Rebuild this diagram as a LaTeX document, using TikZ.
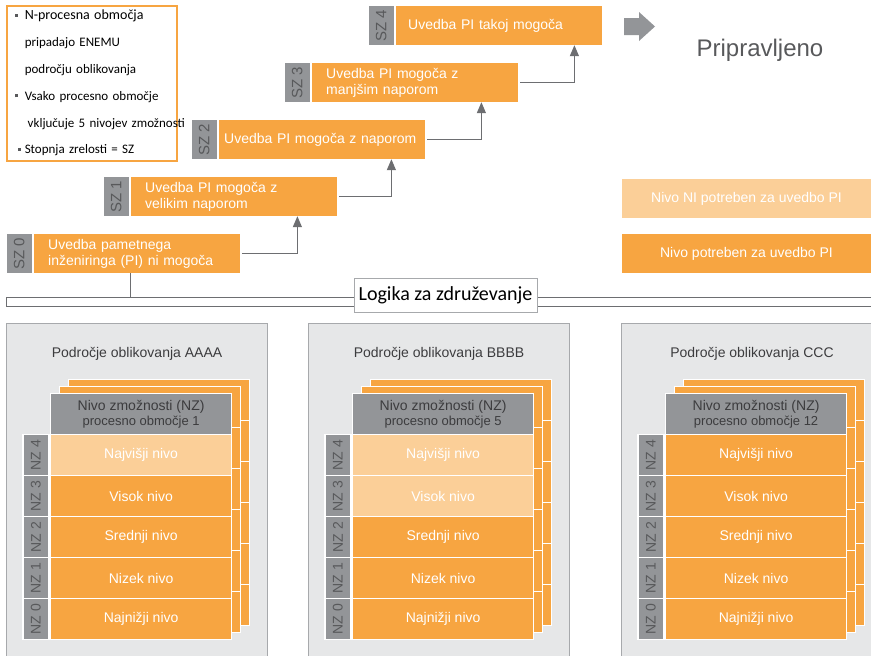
\documentclass[tikz,border=0pt]{standalone}
\usepackage{fontspec}
\setmainfont{Liberation Sans}
\newfontfamily\carlito{Carlito}
\usepackage{xcolor}
\usepackage{graphicx}
\usetikzlibrary{positioning,arrows.meta}

\definecolor{mainorange}{HTML}{F7A541}
\definecolor{lightorange}{HTML}{FBCF98}
\definecolor{lblgray}{HTML}{939598}
\definecolor{panelfill}{HTML}{E6E7E8}
\definecolor{panelline}{HTML}{A7A9AC}
\definecolor{linegray}{HTML}{6D6E71}
\definecolor{darktext}{HTML}{58595B}
\definecolor{titletext}{HTML}{3C3C3E}

\newcommand{\keybul}{\makebox[10pt][l]{\textcolor{darktext}{\rule[3pt]{3pt}{3pt}}}}

\begin{document}
\begin{tikzpicture}[x=1pt, y=-1pt, >={Triangle[length=11pt,width=9pt]}]
    \useasboundingbox (0,0) rectangle (871,656);
    \clip (0,0) rectangle (871,656);
    \tikzset{node distance = 2pt}
    \tikzstyle{StepStyle}=[fill         = mainorange,
                           text         = white,
                           anchor       = west,
                           minimum width  = 206pt,
                           minimum height = 39pt,
                           inner xsep   = 14pt,
                           inner ysep   = 0pt,
                           text width   = 178pt,
                           align        = left,
                           font         = \fontsize{14}{16}\selectfont]
    \tikzstyle{SzStyle}=[fill           = lblgray,
                         text           = darktext,
                         minimum width  = 25pt,
                         minimum height = 39pt,
                         inner sep      = 0pt,
                         font           = \fontsize{15}{15}\selectfont]
    \tikzstyle{StepArrow}=[->,
                           draw        = linegray,
                           line width  = 1.3pt,
                           shorten <=  2pt]
    \tikzstyle{PanelStyle}=[fill           = panelfill,
                            draw           = panelline,
                            line width     = 1pt,
                            minimum width  = 261pt,
                            minimum height = 360pt,
                            inner sep      = 0pt,
                            anchor         = north west]
    \tikzstyle{BackStyle}=[fill           = mainorange,
                           draw           = white,
                           line width     = 1.2pt,
                           minimum width  = 181pt,
                           minimum height = 41pt,
                           inner sep      = 0pt,
                           anchor         = north west]
    \tikzstyle{HdStyle}=[BackStyle,
                         fill  = lblgray,
                         text  = titletext,
                         align = center,
                         font  = \fontsize{14}{15}\selectfont]
    \tikzstyle{LvStyle}=[BackStyle,
                         text = white,
                         font = \fontsize{14}{16}\selectfont]
    \tikzstyle{NzStyle}=[fill           = lblgray,
                         draw           = white,
                         line width     = 1.2pt,
                         text           = darktext,
                         minimum width  = 26pt,
                         minimum height = 41pt,
                         inner sep      = 0pt,
                         font           = \fontsize{14}{14}\selectfont]
    \tikzstyle{NeedStyle}=[text           = white,
                           minimum width  = 249pt,
                           minimum height = 39pt,
                           inner sep      = 0pt,
                           font           = \fontsize{14}{16}\selectfont]

    % legend
    \node[draw = mainorange, line width = 1.5pt, anchor = north west,
          minimum width = 170pt, minimum height = 155pt,
          inner xsep = 8pt, text width = 154pt, align = left,
          font = \carlito\fontsize{13}{26.8}\selectfont] (key) at (6,5) {%
        \keybul{\fontsize{14}{26.8}\selectfont N-procesna območja}\\
        \hspace*{10pt}pripadajo ENEMU\\
        \hspace*{10pt}področju oblikovanja\\
        \keybul Vsako procesno območje\\
        \makebox[154pt][l]{\hspace*{13pt}vključuje 5 nivojev zmožnosti}\\
        \hspace*{3pt}\makebox[7pt][l]{\textcolor{darktext}{\rule[3pt]{3pt}{3pt}}}Stopnja zrelosti = SZ};

    % stopnje zrelosti
    \node[StepStyle] (st0) at (34,253.5) {Uvedba pametnega\\inženiringa (PI) ni mogoča};
    \node[StepStyle] (st1) at (131,196.5) {Uvedba PI mogoča z\\velikim naporom};
    \node[StepStyle, inner xsep = 5pt, text width = 196pt] (st2) at (219,139.5) {Uvedba PI mogoča z naporom};
    \node[StepStyle] (st3) at (312,82.5) {Uvedba PI mogoča z\\manjšim naporom};
    \node[StepStyle, inner xsep = 12pt, text width = 182pt] (st4) at (396,25.5) {Uvedba PI takoj mogoča};
    \node[SzStyle, left=2pt of st0] (sz0) {\rotatebox{90}{SZ 0}};
    \node[SzStyle, left=2pt of st1] (sz1) {\rotatebox{90}{SZ 1}};
    \node[SzStyle, left=2pt of st2] (sz2) {\rotatebox{90}{SZ 2}};
    \node[SzStyle, left=2pt of st3] (sz3) {\rotatebox{90}{SZ 3}};
    \node[SzStyle, left=2pt of st4] (sz4) {\rotatebox{90}{SZ 4}};
    \draw[StepArrow] (st0.east) -| ([xshift=-40pt]st1.south east);
    \draw[StepArrow] (st1.east) -| ([xshift=-34pt]st2.south east);
    \draw[StepArrow] (st2.east) -| ([xshift=-37pt]st3.south east);
    \draw[StepArrow] (st3.east) -| ([xshift=-28pt]st4.south east);

    % pripravljeno
    \fill[lblgray] (624,18) -- (639,18) -- (639,12) -- (655,26.5) -- (639,41)
        -- (639,35) -- (624,35) -- cycle;
    \node[text = darktext, font = \fontsize{24}{24}\selectfont] (ready) at (760,50) {Pripravljeno};
    \node[NeedStyle, fill = lightorange] (notneed) at (746.5,198.5) {Nivo NI potreben za uvedbo PI};
    \node[NeedStyle, fill = mainorange] (need) at (746.5,253.5) {Nivo potreben za uvedbo PI};

    % logika
    \node[draw = linegray, fill = white, line width = 1.2pt, anchor = north west,
          minimum width = 900pt, minimum height = 9pt, inner sep = 0pt] (bar) at (6,297) {};
    \draw[linegray, line width = 1.3pt] ([xshift=-7pt]st0.south) -- ([xshift=-7pt]st0.south |- bar.north);
    \node[draw = panelline, fill = white, line width = 1pt, minimum width = 183pt,
          minimum height = 34pt, inner sep = 0pt,
          font = \carlito\fontsize{20}{20}\selectfont] (logic) at (445.5,295) {Logika za združevanje};

    % podrocja oblikovanja
    \foreach \dx/\pname/\nr/\lite in {0/AAAA/1/1, 302/BBBB/5/2, 615/CCC/12/0}{
      \begin{scope}[xshift=\dx pt]
        \node[PanelStyle] (pan\pname) at (6,323) {};
        \node[text = titletext, font = \fontsize{14}{16}\selectfont] (tit\pname)
            at ([yshift=-31pt]pan\pname.north) {Področje oblikovanja \pname};
        \foreach \ox/\oy in {18/14, 9/7}
          \foreach \k in {0,...,5}
            \node[BackStyle] (bk\pname\ox\k) at ({50+\ox},{393-\oy+41*\k}) {};
        \node[HdStyle] (hd\pname) at (50,393)
            {Nivo zmožnosti (NZ)\\{\fontsize{13}{15}\selectfont procesno območje \nr}};
        \foreach \i/\txt in {4/Najvišji nivo, 3/Visok nivo, 2/Srednji nivo, 1/Nizek nivo, 0/Najnižji nivo}{
          \ifnum\i>\numexpr4-\lite\relax \def\rowfill{lightorange}\else \def\rowfill{mainorange}\fi
          \node[LvStyle, fill = \rowfill] (lv\pname\i) at (50,{434+41*(4-\i)}) {\txt};
          \node[NzStyle, left=0.5pt of lv\pname\i] (nz\pname\i) {\rotatebox{90}{NZ \i}};
        }
      \end{scope}
    }
\end{tikzpicture}
\end{document}
